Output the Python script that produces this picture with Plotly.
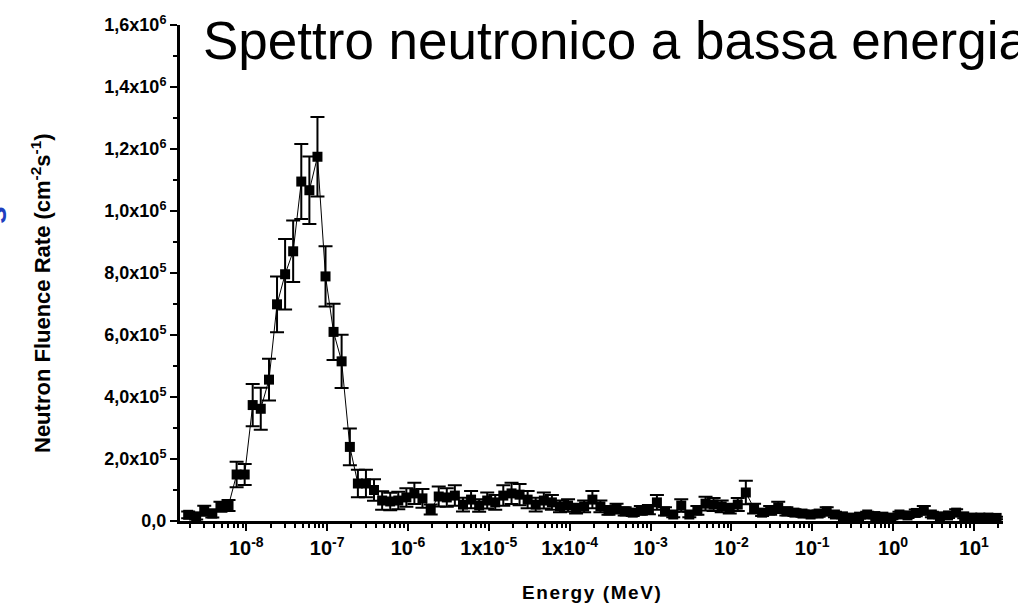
import plotly.graph_objects as go

# Energy bin values (MeV)
energy = [
    1.91e-9, 2.40e-9, 3.02e-9, 3.80e-9, 4.79e-9, 6.03e-9, 7.59e-9, 9.55e-9,
    1.20e-8, 1.51e-8, 1.91e-8, 2.40e-8, 3.02e-8, 3.80e-8, 4.79e-8, 6.03e-8, 7.59e-8, 9.55e-8,
    1.20e-7, 1.51e-7, 1.91e-7, 2.40e-7, 3.02e-7, 3.80e-7, 4.79e-7, 6.03e-7, 7.59e-7, 9.55e-7,
    1.20e-6, 1.51e-6, 1.91e-6, 2.40e-6, 3.02e-6, 3.80e-6, 4.79e-6, 6.03e-6, 7.59e-6, 9.55e-6,
    1.20e-5, 1.51e-5, 1.91e-5, 2.40e-5, 3.02e-5, 3.80e-5, 4.79e-5, 6.03e-5, 7.59e-5, 9.55e-5,
    1.20e-4, 1.51e-4, 1.91e-4, 2.40e-4, 3.02e-4, 3.80e-4, 4.79e-4, 6.03e-4, 7.59e-4, 9.55e-4,
    1.20e-3, 1.51e-3, 1.91e-3, 2.40e-3, 3.02e-3, 3.80e-3, 4.79e-3, 6.03e-3, 7.59e-3, 9.55e-3,
    1.20e-2, 1.51e-2, 1.91e-2, 2.40e-2, 3.02e-2, 3.80e-2, 4.79e-2, 6.03e-2, 7.59e-2, 9.55e-2,
    1.20e-1, 1.51e-1, 1.91e-1, 2.40e-1, 3.02e-1, 3.80e-1, 4.79e-1, 6.03e-1, 7.59e-1, 9.55e-1,
    1.20, 1.51, 1.91, 2.40, 3.02, 3.80, 4.79, 6.03, 7.59, 9.55,
    12.0, 15.1, 19.1,
]

# Neutron fluence rate (cm^-2 s^-1)
fluence = [
    2.0e4, 1.5e4, 3.3e4, 2.4e4, 4.6e4, 5.0e4, 1.50e5, 1.50e5,
    3.74e5, 3.62e5, 4.56e5, 6.99e5, 7.96e5, 8.70e5, 1.095e6, 1.067e6, 1.175e6, 7.89e5,
    6.10e5, 5.15e5, 2.39e5, 1.21e5, 1.21e5, 1.0e5, 6.6e4, 6.3e4, 6.6e4, 7.6e4,
    8.9e4, 7.3e4, 3.7e4, 7.9e4, 7.6e4, 8.2e4, 5.3e4, 6.9e4, 5.0e4, 6.6e4,
    6.0e4, 8.2e4, 8.9e4, 8.5e4, 6.9e4, 5.3e4, 6.6e4, 6.0e4, 4.7e4, 5.0e4,
    4.0e4, 4.7e4, 6.9e4, 4.7e4, 3.4e4, 4.0e4, 3.1e4, 2.7e4, 3.4e4, 3.7e4,
    6.0e4, 3.1e4, 2.1e4, 5.0e4, 2.1e4, 3.4e4, 5.6e4, 5.3e4, 4.7e4, 4.0e4,
    5.3e4, 9.2e4, 4.0e4, 2.7e4, 3.4e4, 4.4e4, 3.1e4, 2.7e4, 2.4e4, 2.1e4,
    2.4e4, 3.1e4, 2.1e4, 1.5e4, 1.1e4, 1.4e4, 2.1e4, 1.6e4, 1.4e4, 1.1e4,
    2.1e4, 1.8e4, 2.6e4, 3.4e4, 2.1e4, 1.5e4, 1.8e4, 2.7e4, 1.5e4, 1.1e4,
    1.1e4, 1.1e4, 1.0e4,
]

# Error bars (cm^-2 s^-1)
errors = [
    1.1e4, 1.0e4, 1.6e4, 1.3e4, 1.6e4, 1.8e4, 4.1e4, 3.4e4,
    6.8e4, 6.8e4, 6.7e4, 9.0e4, 1.14e5, 9.9e4, 1.21e5, 1.09e5, 1.28e5, 9.7e4,
    9.1e4, 8.6e4, 5.9e4, 4.4e4, 4.4e4, 3.5e4, 3.0e4, 2.8e4, 2.8e4, 3.0e4,
    3.4e4, 3.0e4, 1.6e4, 3.2e4, 3.0e4, 3.3e4, 2.2e4, 2.8e4, 2.0e4, 2.6e4,
    2.4e4, 3.3e4, 3.4e4, 3.4e4, 2.8e4, 2.2e4, 2.6e4, 2.4e4, 1.9e4, 2.0e4,
    1.6e4, 1.9e4, 2.8e4, 1.9e4, 1.4e4, 1.6e4, 1.3e4, 1.1e4, 1.4e4, 1.5e4,
    2.4e4, 1.3e4, 9.0e3, 2.0e4, 9.0e3, 1.4e4, 2.2e4, 2.1e4, 1.9e4, 1.6e4,
    2.1e4, 3.8e4, 1.6e4, 1.1e4, 1.4e4, 1.8e4, 1.3e4, 1.1e4, 1.0e4, 9.0e3,
    1.0e4, 1.3e4, 9.0e3, 6.0e3, 5.0e3, 6.0e3, 9.0e3, 7.0e3, 6.0e3, 5.0e3,
    9.0e3, 8.0e3, 1.1e4, 1.4e4, 9.0e3, 6.0e3, 8.0e3, 1.1e4, 6.0e3, 5.0e3,
    5.0e3, 5.0e3, 4.0e3,
]

x_tickvals = [1e-8, 1e-7, 1e-6, 1e-5, 1e-4, 1e-3, 1e-2, 1e-1, 1e0, 1e1]
x_ticktext = ["10<sup>-8</sup>", "10<sup>-7</sup>", "10<sup>-6</sup>", "1x10<sup>-5</sup>",
              "1x10<sup>-4</sup>", "10<sup>-3</sup>", "10<sup>-2</sup>", "10<sup>-1</sup>",
              "10<sup>0</sup>", "10<sup>1</sup>"]
y_tickvals = [0, 2e5, 4e5, 6e5, 8e5, 1.0e6, 1.2e6, 1.4e6, 1.6e6]
y_ticktext = ["0,0", "2,0x10<sup>5</sup>", "4,0x10<sup>5</sup>", "6,0x10<sup>5</sup>",
              "8,0x10<sup>5</sup>", "1,0x10<sup>6</sup>", "1,2x10<sup>6</sup>",
              "1,4x10<sup>6</sup>", "1,6x10<sup>6</sup>"]

title_text = "Spettro neutronico a bassa energia"
ytitle_text = "Neutron Fluence Rate (cm<sup>-2</sup>s<sup>-1</sup>)"
xtitle_text = "Energy (MeV)"

FONT = "Liberation Sans, Arial, sans-serif"

# minor tick positions for the log axis (2..9 in each decade)
minor_x = []
for d in range(-10, 2):
    for m in range(2, 10):
        minor_x.append(m * 10.0 ** d)

fig = go.Figure()
fig.add_trace(go.Scatter(
    x=energy, y=fluence, mode="lines+markers",
    line=dict(color="black", width=1),
    marker=dict(symbol="square", size=10, color="black"),
    error_y=dict(type="data", array=errors, visible=True, color="black",
                 thickness=2, width=7),
    showlegend=False,
))

L, R, T, B = 180, 15, 25, 86
W, H = 1018, 607
pw, ph = W - L - R, H - T - B


def px(xp):
    return (xp - L) / pw


def py(yp):
    return (H - B - yp) / ph


fig.update_layout(
    width=W, height=H,
    margin=dict(l=L, r=R, t=T, b=B, pad=0),
    paper_bgcolor="white", plot_bgcolor="white",
    font=dict(family=FONT, color="black"),
    xaxis=dict(
        type="log", range=[-8.82, 1.36],
        showline=True, linecolor="black", linewidth=3, mirror=False,
        showgrid=False, zeroline=False,
        ticks="outside", ticklen=7, tickwidth=2, tickcolor="black",
        tickvals=x_tickvals, ticktext=x_ticktext,
        tickfont=dict(family=FONT, size=20, weight="bold", color="black"),
        minor=dict(tickvals=minor_x, ticks="outside", ticklen=4, tickwidth=2,
                   tickcolor="black", showgrid=False),
    ),
    yaxis=dict(
        range=[0, 1.6e6],
        showline=True, linecolor="black", linewidth=3, mirror=False,
        showgrid=False, zeroline=False,
        ticks="outside", ticklen=7, tickwidth=2, tickcolor="black",
        tickvals=y_tickvals, ticktext=y_ticktext,
        tickfont=dict(family=FONT, size=18, weight="bold", color="black"),
        minor=dict(dtick=1e5, ticks="outside", ticklen=4, tickwidth=2,
                   tickcolor="black", showgrid=False),
    ),
    annotations=[
        dict(text=title_text, xref="paper", yref="paper", x=px(201), y=py(40),
             xanchor="left", yanchor="middle", showarrow=False,
             font=dict(family=FONT, size=53, color="black")),
        dict(text=ytitle_text, xref="paper", yref="paper", x=px(41), y=py(293),
             xanchor="center", yanchor="middle", showarrow=False, textangle=-90,
             font=dict(family=FONT, size=22, weight="bold", color="black")),
        dict(text="E\u200an\u200ae\u200ar\u200ag\u200ay\u200a \u200a(\u200aM\u200ae\u200aV\u200a)",
             xref="paper", yref="paper", x=px(591), y=py(592),
             xanchor="center", yanchor="middle", showarrow=False,
             font=dict(family=FONT, size=19, weight="bold", color="black")),
        dict(text="s", xref="paper", yref="paper", x=px(-5), y=py(215),
             xanchor="center", yanchor="middle", showarrow=False, textangle=-90,
             font=dict(family=FONT, size=32, weight="bold", color="#1f3fbf")),
    ],
)

fig.write_html("out.html")
